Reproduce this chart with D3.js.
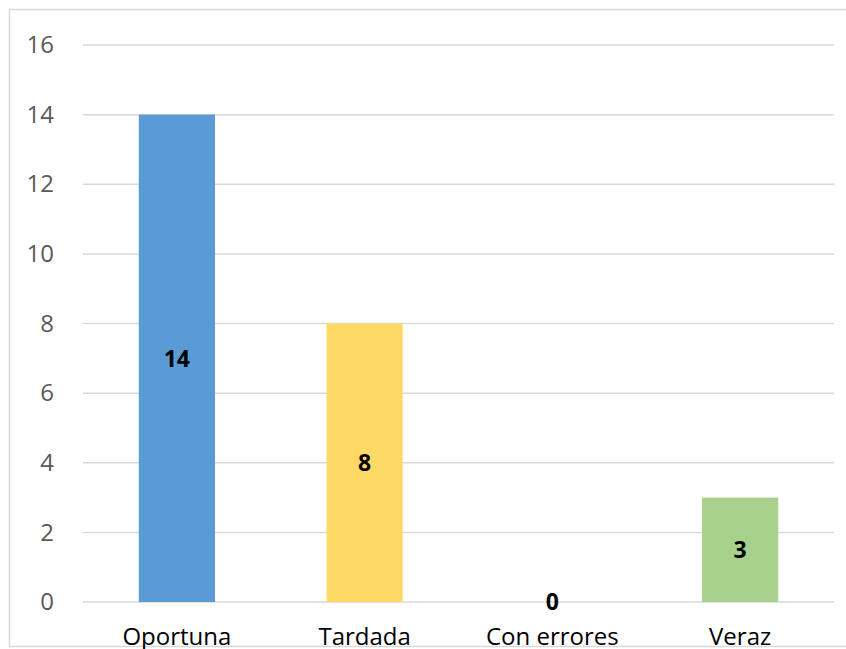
<!DOCTYPE html>
<html>
<head>
<meta charset="utf-8">
<script src="https://cdn.jsdelivr.net/npm/d3@7"></script>
<style>
  html, body { margin: 0; padding: 0; background: #ffffff; }
  svg { display: block; }
</style>
</head>
<body>
<svg id="chart" width="846" height="649"></svg>
<script>
// Category names, counts and bar colours
const categories = ["Oportuna", "Tardada", "Con errores", "Veraz"];
const values = [14, 8, 0, 3];
const colors = ["#5B9BD5", "#FFD966", "#5B9BD5", "#A9D18E"];
const yTicks = [0, 2, 4, 6, 8, 10, 12, 14, 16];

const svg = d3.select("#chart");
const W = 846, H = 649;
const margin = { left: 83, right: 12, top: 45, bottom: 47 };
const plotW = W - margin.left - margin.right;
const plotH = H - margin.top - margin.bottom;

// Outer chart frame
svg.append("rect")
  .attr("x", 9.5).attr("y", 9.5)
  .attr("width", 850).attr("height", 637)
  .attr("fill", "#ffffff")
  .attr("stroke", "#d9d9d9")
  .attr("stroke-width", 1.5);

const g = svg.append("g").attr("transform", `translate(${margin.left},${margin.top})`);

const x = d3.scaleBand().domain(categories).range([0, plotW]).paddingInner(0.594).paddingOuter(0.297);
const y = d3.scaleLinear().domain([0, 16]).range([plotH, 0]);

// Horizontal gridlines
g.append("g")
  .selectAll("line")
  .data(yTicks)
  .join("line")
  .attr("x1", 0).attr("x2", plotW)
  .attr("y1", d => y(d)).attr("y2", d => y(d))
  .attr("stroke", "#d9d9d9")
  .attr("stroke-width", 1.5);

// Y axis labels
const yAxis = d3.axisLeft(y).tickValues(yTicks).tickSize(0).tickPadding(29);
g.append("g")
  .call(yAxis)
  .call(a => a.select(".domain").remove())
  .selectAll("text")
  .attr("font-family", "'Open Sans', sans-serif")
  .attr("font-size", 24)
  .attr("fill", "#595959");

// Bars
g.append("g")
  .selectAll("rect")
  .data(values)
  .join("rect")
  .attr("x", (d, i) => x(categories[i]))
  .attr("y", d => y(d))
  .attr("width", x.bandwidth())
  .attr("height", d => plotH - y(d))
  .attr("fill", (d, i) => colors[i]);

// Value labels centred in each bar
g.append("g")
  .selectAll("text")
  .data(values)
  .join("text")
  .attr("x", (d, i) => x(categories[i]) + x.bandwidth() / 2)
  .attr("y", d => (y(d) + plotH) / 2)
  .attr("dy", "0.36em")
  .attr("text-anchor", "middle")
  .attr("font-family", "'Open Sans', sans-serif")
  .attr("font-weight", "bold")
  .attr("font-size", 23)
  .attr("fill", "#000000")
  .text(d => d);

// X axis category labels
const xAxis = d3.axisBottom(x).tickSize(0).tickPadding(26);
g.append("g")
  .attr("transform", `translate(0,${plotH})`)
  .call(xAxis)
  .call(a => a.select(".domain").remove())
  .selectAll("text")
  .attr("font-family", "'Open Sans', sans-serif")
  .attr("font-size", 24)
  .attr("fill", "#000000");
</script>
</body>
</html>
